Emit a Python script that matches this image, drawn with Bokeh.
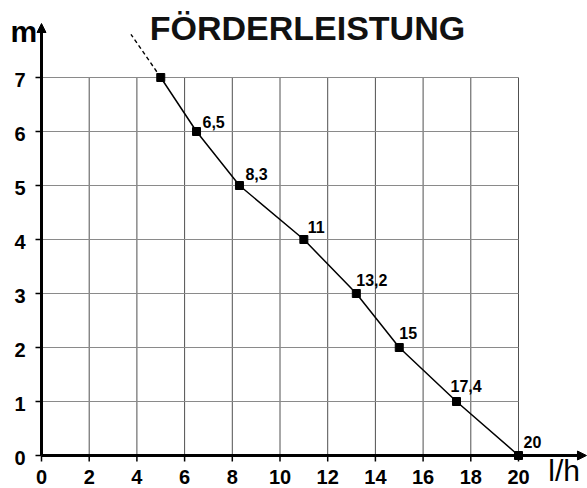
from bokeh.plotting import figure
from bokeh.models import Range1d, Arrow, NormalHead, ColumnDataSource
from bokeh.core.properties import value
from bokeh.embed import file_html
from bokeh.resources import INLINE

# ---- data ----
flow = [5, 6.5, 8.3, 11, 13.2, 15, 17.4, 20]          # l/h
head = [7, 6, 5, 4, 3, 2, 1, 0]                       # m
point_labels = ["", "6,5", "8,3", "11", "13,2", "15", "17,4", "20"]
ext_flow = [5, 3.75]                                  # dashed extension
ext_head = [7, 7.8]
x_ticks = [0, 2, 4, 6, 8, 10, 12, 14, 16, 18, 20]
y_ticks = [0, 1, 2, 3, 4, 5, 6, 7]
x_tick_labels = [str(v) for v in x_ticks]
y_tick_labels = [str(v) for v in y_ticks]
title_text = "FÖRDERLEISTUNG"
x_unit = "l/h"
y_unit = "m"

# label offsets in px (style, not data); dy = label centre relative to point
label_dx = [0, 6, 6, 4, 0, 0, -6, 5]
label_dy = [0, -10, -12, -13, -14, -15, -16, -14]

# ---- geometry ----
W, H = 587, 488
XS, YS = 23.85, 54.0          # px per unit
x_start = -41 / XS
x_end = x_start + W / XS
y_end = 7 + 77 / YS
y_start = y_end - H / YS

FONT = value("Liberation Sans")

p = figure(width=W, height=H, x_range=Range1d(x_start, x_end),
           y_range=Range1d(y_start, y_end), output_backend="svg",
           toolbar_location=None, min_border=0, x_axis_location=None,
           y_axis_location=None, outline_line_color=None)
p.grid.visible = False
p.background_fill_color = "white"
p.border_fill_color = "white"

xmax, ymax = max(x_ticks), max(y_ticks)
# grid
p.segment(x0=x_ticks[1:], y0=0, x1=x_ticks[1:], y1=ymax,
          line_color="#505050", line_width=1)
p.segment(x0=0, y0=y_ticks[1:], x1=xmax, y1=y_ticks[1:],
          line_color="#8a8a8a", line_width=1)

# tick marks
p.segment(x0=x_ticks, y0=0, x1=x_ticks, y1=-6 / YS, line_color="black", line_width=1.5)
p.segment(x0=0, y0=y_ticks, x1=-6 / XS, y1=y_ticks, line_color="black", line_width=1.5)

# axes with arrows
p.add_layout(Arrow(x_start=0, y_start=0, x_end=0, y_end=8.0, line_width=3,
                   line_color="black",
                   end=NormalHead(size=9, fill_color="black", line_color="black")))
p.add_layout(Arrow(x_start=0, y_start=0, x_end=22.85, y_end=0, line_width=3,
                   line_color="black",
                   end=NormalHead(size=9, fill_color="black", line_color="black")))

# curve
p.line(ext_flow, ext_head, line_color="black", line_width=1.4, line_dash="4 3")
p.line(flow, head, line_color="black", line_width=1.5)
p.scatter(flow, head, marker="square", size=8, color="black")

# point labels
src = ColumnDataSource(dict(x=flow[1:], y=head[1:], t=point_labels[1:],
                            dx=label_dx[1:], dy=label_dy[1:]))
p.text(x="x", y="y", text="t", x_offset="dx", y_offset="dy", source=src,
       text_font=FONT, text_font_style="bold", text_font_size="16px",
       text_color="black", text_align="left", text_baseline="middle")

# tick labels
p.text(x=x_ticks, y=[0] * len(x_ticks), text=x_tick_labels, y_offset=21,
       text_font=FONT, text_font_style="bold", text_font_size="20px",
       text_align="center", text_baseline="middle", text_color="black")
p.text(x=[0] * len(y_ticks), y=y_ticks, text=y_tick_labels, x_offset=-16, y_offset=2,
       text_font=FONT, text_font_style="bold", text_font_size="20px",
       text_align="right", text_baseline="middle", text_color="black")

# title and units
p.text(x=[11.15], y=[7.917], text=[title_text], text_font=FONT,
       text_font_style="bold", text_font_size="34px", text_align="center",
       text_baseline="middle", text_color="#111111")
p.text(x=[-1.3], y=[7.86], text=[y_unit], text_font=FONT,
       text_font_style="bold", text_font_size="30px", text_align="left",
       text_baseline="middle", text_color="black")
p.text(x=[21.25], y=[-0.28], text=[x_unit], text_font=FONT,
       text_font_style="normal", text_font_size="30px", text_align="left",
       text_baseline="middle", text_color="black")

open("out.html", "w").write(file_html(p, INLINE))
